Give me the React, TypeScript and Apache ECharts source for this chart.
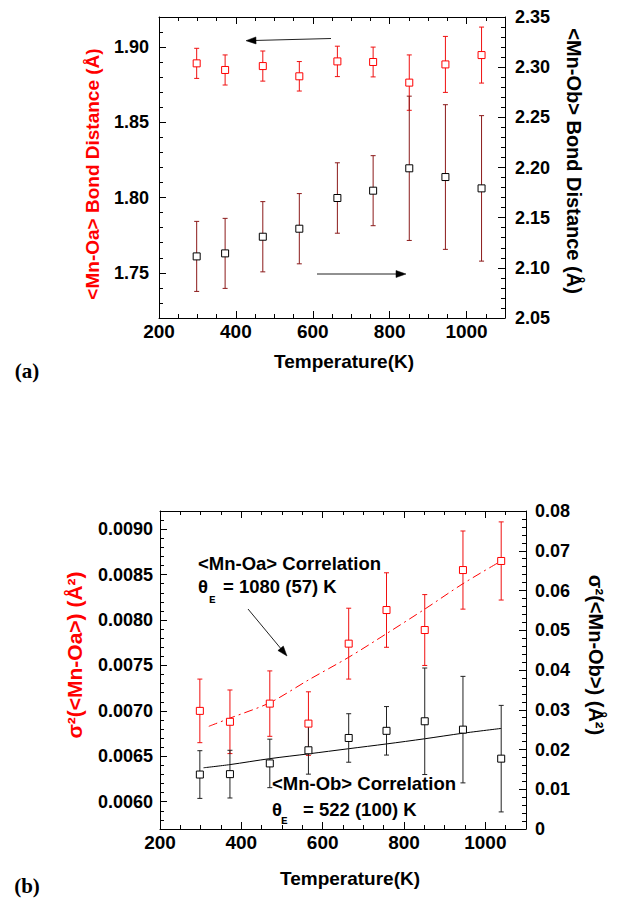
import React, { useEffect, useRef } from 'react';
import * as echarts from 'echarts';

// ---- data ----
const temperatures = [298, 372, 470, 565, 664, 757, 851, 945, 1039];

// panel (a)
const oaDistance = [1.8892, 1.8848, 1.8874, 1.8806, 1.8905, 1.8901, 1.8764, 1.8885, 1.8947];
const oaDistanceErr = [0.0100, 0.0100, 0.0100, 0.0098, 0.0101, 0.0099, 0.0184, 0.0186, 0.0186];
const obDistance = [2.1114, 2.1144, 2.1310, 2.1390, 2.1696, 2.1769, 2.1992, 2.1905, 2.1792];
const obDistanceErr = [0.0349, 0.0349, 0.0350, 0.0350, 0.0351, 0.0349, 0.0719, 0.0721, 0.0725];

// panel (b)
const oaSigma = [0.00700, 0.00688, 0.00708, 0.00686, 0.00774, 0.00811, 0.00789, 0.00855, 0.00865];
const oaSigmaErr = [0.00035, 0.00035, 0.00036, 0.00035, 0.00039, 0.00041, 0.00039, 0.00043, 0.00043];
const obSigma = [0.0137, 0.0138, 0.0165, 0.0198, 0.0229, 0.0247, 0.0271, 0.0250, 0.0177];
const obSigmaErr = [0.0060, 0.0060, 0.0061, 0.0060, 0.0061, 0.0061, 0.0134, 0.0134, 0.0134];

// Einstein-model fit curves
const oaFitT = [320, 372, 470, 565, 664, 757, 851, 945, 1039];
const oaFitV = [0.00683, 0.00692, 0.00709, 0.00734, 0.00759, 0.00785, 0.00812, 0.00840, 0.00865];
const obFitT = [307, 372, 470, 565, 664, 757, 851, 945, 1039];
const obFitV = [0.0154, 0.0162, 0.0177, 0.0189, 0.0202, 0.0214, 0.0227, 0.0241, 0.0253];

// tick labels
const xMajorTicks = [200, 400, 600, 800, 1000];
const topLeftTicks = [1.75, 1.80, 1.85, 1.90];
const bottomLeftTicks = [0.0060, 0.0065, 0.0070, 0.0075, 0.0080, 0.0085, 0.0090];

const r6 = (v: number) => Math.round(v * 1e7) / 1e7;
function minorValues(from: number, to: number, step: number, majorStep: number) {
  const out: number[] = [];
  const n = Math.round((to - from) / step);
  for (let i = 0; i <= n; i++) {
    const v = r6(from + i * step);
    const q = v / majorStep;
    if (Math.abs(q - Math.round(q)) > 1e-6) out.push(v);
  }
  return out;
}

const FONT = 'Liberation Sans, Arial, Helvetica, sans-serif';
const RED = '#ff0000';
const lineStyle = { color: '#000', width: 1 };
const labelBase = { color: '#000', fontFamily: FONT, fontWeight: 'bold' as const, fontSize: 18 };

function xAxes(grid: number) {
  const minors = minorValues(200, 1100, 50, 200);
  const common = { type: 'value', gridIndex: grid, min: 200, max: 1100, splitLine: { show: false } };
  return [
    { ...common, position: 'bottom', axisLine: { show: true, lineStyle },
      axisTick: { show: true, inside: true, length: 7, lineStyle, customValues: xMajorTicks },
      axisLabel: { ...labelBase, fontSize: 19, margin: 4, customValues: xMajorTicks, formatter: (v: number) => String(v) } },
    { ...common, position: 'bottom', axisLine: { show: false },
      axisTick: { show: true, inside: true, length: 4, lineStyle, customValues: minors },
      axisLabel: { show: false } },
    { ...common, position: 'top', axisLine: { show: true, lineStyle },
      axisTick: { show: true, inside: true, length: 7, lineStyle, customValues: xMajorTicks },
      axisLabel: { show: false } },
    { ...common, position: 'top', axisLine: { show: false },
      axisTick: { show: true, inside: true, length: 4, lineStyle, customValues: minors },
      axisLabel: { show: false } },
  ];
}

function leftAxes(grid: number, min: number, max: number, majors: number[], minors: number[], digits: number, margin: number) {
  const common = { type: 'value', gridIndex: grid, min, max, position: 'left', splitLine: { show: false } };
  return [
    { ...common, axisLine: { show: true, lineStyle },
      axisTick: { show: true, inside: true, length: 7, lineStyle, customValues: majors },
      axisLabel: { ...labelBase, margin, customValues: majors, formatter: (v: number) => v.toFixed(digits) } },
    { ...common, axisLine: { show: false },
      axisTick: { show: true, inside: true, length: 4, lineStyle, customValues: minors },
      axisLabel: { show: false } },
  ];
}

const errorBarRender = (color: string) => (params: any, api: any) => {
  const x = api.value(0);
  const lo = api.coord([x, api.value(1)]);
  const hi = api.coord([x, api.value(2)]);
  const w = 2.5;
  const style = { stroke: color, lineWidth: 1, fill: 'none' };
  return {
    type: 'group',
    children: [
      { type: 'line', shape: { x1: lo[0], y1: lo[1], x2: hi[0], y2: hi[1] }, style },
      { type: 'line', shape: { x1: lo[0] - w, y1: lo[1], x2: lo[0] + w, y2: lo[1] }, style },
      { type: 'line', shape: { x1: hi[0] - w, y1: hi[1], x2: hi[0] + w, y2: hi[1] }, style },
    ],
  };
};

function errSeries(xi: number, yi: number, vals: number[], errs: number[], color: string) {
  return {
    type: 'custom', xAxisIndex: xi, yAxisIndex: yi, silent: true, z: 3,
    renderItem: errorBarRender(color),
    encode: { x: 0, y: [1, 2] },
    data: temperatures.map((t, i) => [t, r6(vals[i] - errs[i]), r6(vals[i] + errs[i])]),
  };
}

function pointSeries(xi: number, yi: number, vals: number[], color: string) {
  return {
    type: 'scatter', xAxisIndex: xi, yAxisIndex: yi, silent: true, z: 5,
    symbol: 'rect', symbolSize: 7,
    itemStyle: { color: '#fff', borderColor: color, borderWidth: 1, opacity: 1 },
    data: temperatures.map((t, i) => [t, vals[i]]),
  };
}

function txt(x: number, y: number, text: string, opts: any = {}) {
  const align = opts.align || 'left';
  return {
    type: 'text', x, y, rotation: opts.rotation || 0, silent: true, z: 100,
    style: {
      text,
      fill: opts.color || '#000',
      fontSize: opts.size || 18,
      fontWeight: opts.weight || 'bold',
      fontFamily: opts.family || FONT,
      textAlign: align, align,
      textVerticalAlign: 'middle', verticalAlign: 'middle',
    },
  };
}

function arrow(x1: number, y1: number, x2: number, y2: number, headLen = 10, headHalf = 3.5) {
  const dx = x2 - x1, dy = y2 - y1;
  const L = Math.sqrt(dx * dx + dy * dy);
  const ux = dx / L, uy = dy / L;
  const bx = x2 - ux * headLen, by = y2 - uy * headLen;
  const px = -uy, py = ux;
  return [
    { type: 'line', silent: true, z: 100, shape: { x1, y1, x2: bx + ux * 2, y2: by + uy * 2 }, style: { stroke: '#222', lineWidth: 1 } },
    { type: 'polygon', silent: true, z: 100,
      shape: { points: [[x2, y2], [bx + px * headHalf, by + py * headHalf], [bx - px * headHalf, by - py * headHalf]] },
      style: { fill: '#000', stroke: '#000', lineWidth: 0.5 } },
  ];
}

const option: any = {
  animation: false,
  backgroundColor: '#fff',
  grid: [
    { left: 159, top: 17, width: 346, height: 301, show: false },
    { left: 160, top: 511, width: 366, height: 318, show: false },
  ],
  xAxis: [...xAxes(0), ...xAxes(1)],
  yAxis: [
    ...leftAxes(0, 1.72, 1.92, topLeftTicks, minorValues(1.72, 1.92, 0.01, 0.05), 2, 10),
    { type: 'value', gridIndex: 0, min: 2.05, max: 2.35, interval: 0.05, position: 'right',
      splitLine: { show: false }, axisLine: { show: true, lineStyle },
      axisTick: { show: true, inside: true, length: 7, lineStyle },
      minorTick: { show: true, splitNumber: 5, length: 4, lineStyle },
      axisLabel: { ...labelBase, margin: 10, formatter: (v: number) => v.toFixed(2) } },
    ...leftAxes(1, 0.0057, 0.0092, bottomLeftTicks, minorValues(0.0057, 0.0092, 0.0001, 0.0005), 4, 7),
    { type: 'value', gridIndex: 1, min: 0, max: 0.08, interval: 0.01, position: 'right',
      splitLine: { show: false }, axisLine: { show: true, lineStyle },
      axisTick: { show: true, inside: true, length: 7, lineStyle },
      minorTick: { show: true, splitNumber: 5, length: 4, lineStyle },
      axisLabel: { ...labelBase, margin: 9, formatter: (v: number) => (v === 0 ? '0' : v.toFixed(2)) } },
  ],
  series: [
    // panel (a)
    errSeries(0, 0, oaDistance, oaDistanceErr, '#f01010'),
    pointSeries(0, 0, oaDistance, RED),
    errSeries(0, 2, obDistance, obDistanceErr, '#8b1a1a'),
    pointSeries(0, 2, obDistance, '#000'),
    // panel (b)
    { type: 'line', xAxisIndex: 4, yAxisIndex: 3, silent: true, z: 2, smooth: 0.3, showSymbol: false, symbol: 'none',
      lineStyle: { color: RED, width: 1, type: [9, 4, 2, 4] },
      data: oaFitT.map((t, i) => [t, oaFitV[i]]) },
    { type: 'line', xAxisIndex: 4, yAxisIndex: 5, silent: true, z: 2, smooth: 0.3, showSymbol: false, symbol: 'none',
      lineStyle: { color: '#000', width: 1 },
      data: obFitT.map((t, i) => [t, obFitV[i]]) },
    errSeries(4, 3, oaSigma, oaSigmaErr, '#f01010'),
    errSeries(4, 5, obSigma, obSigmaErr, '#222'),
    pointSeries(4, 3, oaSigma, RED),
    pointSeries(4, 5, obSigma, '#000'),
  ],
  graphic: [
    // panel (a) titles
    txt(92, 174, '<Mn-Oa> Bond Distance (Å)', { color: RED, size: 19, align: 'center', rotation: Math.PI / 2 }),
    txt(574, 161, '<Mn-Ob> Bond Distance (Å)', { size: 20, align: 'center', rotation: -Math.PI / 2 }),
    txt(344, 361, 'Temperature(K)', { size: 19, align: 'center' }),
    txt(27, 371, '(a)', { size: 21, align: 'center', family: 'Liberation Serif, Times New Roman, serif' }),
    ...arrow(331, 38.5, 246, 40.7),
    ...arrow(317, 274, 406, 274),
    // panel (b) titles
    txt(74, 655, 'σ²(<Mn-Oa>) (Å²)', { color: RED, size: 21, align: 'center', rotation: Math.PI / 2 }),
    txt(596, 655, 'σ²(<Mn-Ob>) (Å²)', { size: 20, align: 'center', rotation: -Math.PI / 2 }),
    txt(350, 878, 'Temperature(K)', { size: 19, align: 'center' }),
    txt(27, 886, '(b)', { size: 21, align: 'center', family: 'Liberation Serif, Times New Roman, serif' }),
    // annotations
    txt(198, 563, '<Mn-Oa> Correlation', { size: 18.5 }),
    txt(198, 586, 'θ', { size: 18.5 }),
    txt(209, 600, 'E', { size: 11, family: 'Liberation Mono, Courier New, monospace' }),
    txt(223, 586, '= 1080 (57) K', { size: 18.5 }),
    ...arrow(248, 609, 287, 656, 10, 3.5),
    txt(272, 783, '<Mn-Ob> Correlation', { size: 18.5 }),
    txt(272, 809, 'θ', { size: 18.5 }),
    txt(281, 821, 'E', { size: 11, family: 'Liberation Mono, Courier New, monospace' }),
    txt(303, 809, '= 522 (100) K', { size: 18.5 }),
  ],
};

export default function App() {
  const ref = useRef<HTMLDivElement>(null);
  useEffect(() => {
    const chart = echarts.init(ref.current as HTMLDivElement, null, { renderer: 'svg' });
    chart.setOption(option);
    return () => chart.dispose();
  }, []);
  return (
    <div
      ref={ref}
      style={{ position: 'absolute', left: 0, top: 0, width: 617, height: 904, background: '#fff' }}
    />
  );
}
